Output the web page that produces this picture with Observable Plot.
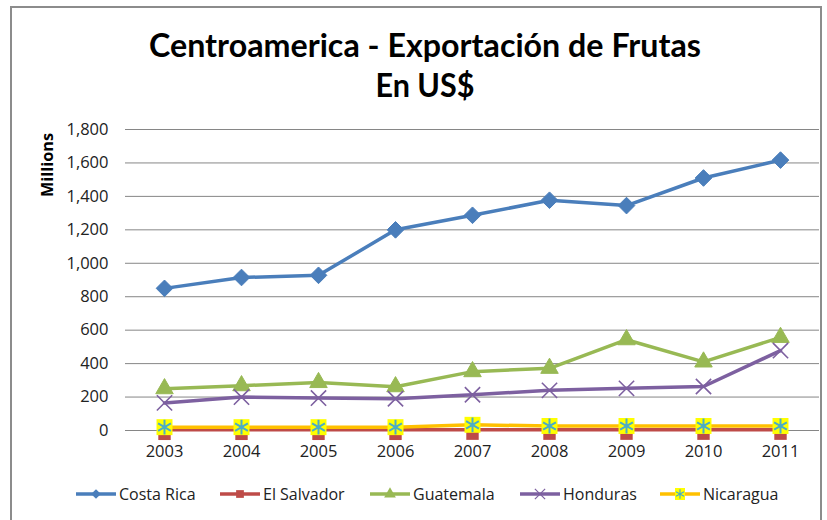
<!DOCTYPE html>
<html>
<head>
<meta charset="utf-8">
<script src="https://cdn.jsdelivr.net/npm/d3@7"></script>
<script src="https://cdn.jsdelivr.net/npm/@observablehq/plot@0.6"></script>
<style>
  body { margin: 0; background: #fff; }
  #wrap { position: relative; width: 827px; height: 520px; overflow: hidden; background: #fff; font-family: "Open Sans", sans-serif; }
  #frame { position: absolute; left: 10px; top: 6px; width: 812px; height: 530px; border: 2px solid #8c8c8c; box-sizing: border-box; }
  #title { position: absolute; left: 0; top: 0; }
  #chart { position: absolute; left: 0; top: 110px; }
  #ylab { position: absolute; left: 0; top: 110px; }
  #legend { position: absolute; left: 0; top: 480px; }
</style>
</head>
<body>
<div id="wrap">
  <div id="frame"></div>
  <svg id="title" width="827" height="110"></svg>
  <div id="chart"></div>
  <svg id="ylab" width="80" height="120"></svg>
  <svg id="legend" width="827" height="30"></svg>
</div>
<script>
const years = ["2003","2004","2005","2006","2007","2008","2009","2010","2011"];
const costaRica  = [850, 915, 928, 1200, 1287, 1377, 1345, 1510, 1617];
const elSalvador = [4, 4, 4, 4, 5, 5, 5, 5, 5];
const guatemala  = [250, 268, 287, 262, 352, 372, 543, 410, 557];
const honduras   = [165, 200, 194, 190, 214, 240, 252, 263, 478];
const nicaragua  = [20, 20, 20, 20, 34, 27, 27, 27, 27];
const seriesNames = ["Costa Rica", "El Salvador", "Guatemala", "Honduras", "Nicaragua"];
const seriesColors = ["#4a7ebb", "#be4b48", "#98b954", "#7d60a0", "#ffc000"];
const yTicks = [0, 200, 400, 600, 800, 1000, 1200, 1400, 1600, 1800];
const titleLines = ["Centroamerica - Exportación de Frutas", "En US$"];
const yLabel = "Millions";

const allSeries = [costaRica, elSalvador, guatemala, honduras, nicaragua];
const rows = [];
allSeries.forEach((vals, si) => vals.forEach((v, i) => rows.push({series: seriesNames[si], year: years[i], value: v})));
const of = name => rows.filter(d => d.series === name);

const line = (name, color) => Plot.line(of(name), {x: "year", y: "value", stroke: color, strokeWidth: 3.5, strokeLinejoin: "round", strokeLinecap: "round"});

const chart = Plot.plot({
  width: 827,
  height: 370,
  marginTop: 19,
  marginBottom: 50,
  marginLeft: 125,
  marginRight: 8,
  style: {fontFamily: "Open Sans, sans-serif", fontSize: "16.5px", color: "#222", background: "transparent"},
  x: {type: "point", domain: years, padding: 0.5, label: null, tickSize: 0, tickPadding: 15},
  y: {domain: [0, 1800], ticks: yTicks, tickFormat: d3.format(","), label: null, tickSize: 0, tickPadding: 17},
  marks: [
    Plot.gridY(yTicks, {stroke: "#868686", strokeOpacity: 1, strokeWidth: 1}),
    line("Costa Rica", seriesColors[0]),
    Plot.dot(of("Costa Rica"), {x: "year", y: "value", symbol: "diamond2", r: 7.5, fill: seriesColors[0], stroke: seriesColors[0], strokeWidth: 1}),
    line("El Salvador", seriesColors[1]),
    Plot.dot(of("El Salvador"), {x: "year", y: "value", symbol: "square", r: 7, fill: seriesColors[1], dy: 4}),
    line("Guatemala", seriesColors[2]),
    Plot.dot(of("Guatemala"), {x: "year", y: "value", symbol: "triangle", r: 6.5, fill: seriesColors[2], stroke: seriesColors[2], strokeWidth: 1}),
    line("Honduras", seriesColors[3]),
    Plot.dot(of("Honduras"), {x: "year", y: "value", symbol: "times", r: 7, stroke: seriesColors[3], strokeWidth: 1.6}),
    line("Nicaragua", seriesColors[4]),
    Plot.dot(of("Nicaragua"), {x: "year", y: "value", symbol: "square", r: 9, fill: "#ffff00", stroke: "none"}),
    Plot.dot(of("Nicaragua"), {x: "year", y: "value", symbol: "asterisk", r: 7, stroke: "#4bacc6", strokeWidth: 2})
  ]
});
document.getElementById("chart").appendChild(chart);

// Title
const t = d3.select("#title");
t.append("text").attr("x", 425).attr("y", 57).attr("text-anchor", "middle")
  .attr("font-family", "Lato, sans-serif").attr("font-weight", "bold").attr("font-size", 33)
  .attr("textLength", 552).attr("lengthAdjust", "spacingAndGlyphs").attr("fill", "#000").text(titleLines[0]);
t.append("text").attr("x", 425).attr("y", 97).attr("text-anchor", "middle")
  .attr("font-family", "Lato, sans-serif").attr("font-weight", "bold").attr("font-size", 33)
  .attr("textLength", 99).attr("lengthAdjust", "spacingAndGlyphs").attr("fill", "#000").text(titleLines[1]);

// Y label
d3.select("#ylab").append("text").attr("transform", "translate(53,55) rotate(-90)").attr("text-anchor", "middle")
  .attr("font-family", "Open Sans, sans-serif").attr("font-weight", "bold").attr("font-size", 15.5)
  .attr("textLength", 64).attr("lengthAdjust", "spacingAndGlyphs")
  .attr("fill", "#000").text(yLabel);

// Legend
const lg = d3.select("#legend");
const swX = [76, 220, 370, 520, 660];
const cy = 14;
const sym = [d3.symbolDiamond2, d3.symbolSquare, d3.symbolTriangle, d3.symbolX, d3.symbolSquare];
seriesNames.forEach((name, i) => {
  const x0 = swX[i];
  lg.append("line").attr("x1", x0).attr("x2", x0 + 40).attr("y1", cy).attr("y2", cy)
    .attr("stroke", seriesColors[i]).attr("stroke-width", 3.5);
  const cx = x0 + 20;
  if (i === 4) {
    lg.append("rect").attr("x", cx - 5).attr("y", cy - 6).attr("width", 10).attr("height", 12).attr("fill", "#ffff00");
    lg.append("path").attr("d", d3.symbol(d3.symbolAsterisk, 60)()).attr("transform", `translate(${cx},${cy})`)
      .attr("stroke", "#4bacc6").attr("stroke-width", 1.2).attr("fill", "none");
  } else if (i === 3) {
    lg.append("path").attr("d", d3.symbol(sym[i], 70)()).attr("transform", `translate(${cx},${cy})`)
      .attr("stroke", seriesColors[i]).attr("stroke-width", 1.2).attr("fill", "none");
  } else {
    lg.append("path").attr("d", d3.symbol(sym[i], 60)()).attr("transform", `translate(${cx},${cy})`)
      .attr("fill", seriesColors[i]);
  }
  lg.append("text").attr("x", x0 + 43).attr("y", cy + 6).attr("font-family", "Open Sans, sans-serif")
    .attr("font-size", 16).attr("fill", "#222").text(name);
});
</script>
</body>
</html>
